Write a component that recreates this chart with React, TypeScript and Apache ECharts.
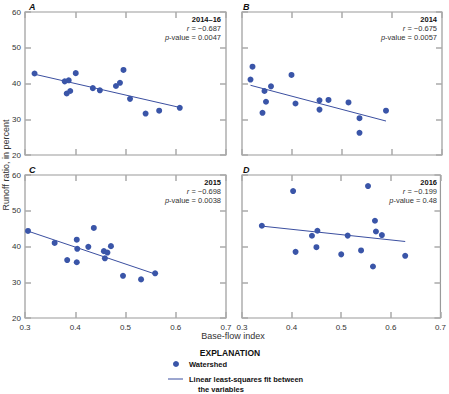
import React, { useEffect, useRef } from "react";
import * as echarts from "echarts";

const panelLetters = ["A", "B", "C", "D"];
const panelYears = ["2014–16", "2014", "2015", "2016"];
const panelR = ["−0.687", "−0.675", "−0.698", "−0.199"];
const panelP = ["0.0047", "0.0057", "0.0038", "0.48"];

const dataA = [
  [0.319, 42.8], [0.379, 40.6], [0.387, 40.9], [0.383, 37.2], [0.39, 37.9],
  [0.401, 42.9], [0.435, 38.7], [0.449, 38.1], [0.481, 39.3], [0.489, 40.2],
  [0.496, 43.8], [0.509, 35.7], [0.54, 31.6], [0.567, 32.4], [0.608, 33.2],
];
const dataB = [
  [0.321, 44.7], [0.317, 41.1], [0.345, 37.9], [0.358, 39.2], [0.348, 34.9],
  [0.341, 31.8], [0.399, 42.4], [0.407, 34.4], [0.455, 35.3], [0.455, 32.7],
  [0.473, 35.4], [0.513, 34.7], [0.535, 30.3], [0.535, 26.2], [0.588, 32.4],
];
const dataC = [
  [0.306, 44.35], [0.359, 41.0], [0.384, 36.2], [0.403, 41.9], [0.404, 39.35],
  [0.403, 35.6], [0.426, 39.9], [0.437, 45.2], [0.457, 38.7], [0.459, 36.7],
  [0.464, 38.3], [0.471, 40.1], [0.495, 31.8], [0.531, 30.8], [0.559, 32.5],
];
const dataD = [
  [0.34, 45.8], [0.403, 55.5], [0.408, 38.5], [0.441, 43.0], [0.452, 44.4],
  [0.45, 39.8], [0.5, 37.8], [0.513, 43.05], [0.54, 38.9], [0.554, 56.9],
  [0.568, 47.2], [0.564, 34.4], [0.57, 44.2], [0.582, 43.2], [0.629, 37.4],
];
const fitA = [[0.319, 42.6], [0.608, 33.3]];
const fitB = [[0.317, 39.5], [0.588, 29.5]];
const fitC = [[0.306, 44.3], [0.559, 32.3]];
const fitD = [[0.34, 45.7], [0.629, 41.4]];

const scatterData = [dataA, dataB, dataC, dataD];
const fitData = [fitA, fitB, fitC, fitD];

const xTickMin = 0.3;
const xTickMax = 0.7;
const xTickStep = 0.1;
const yTickMin = 20;
const yTickMax = 60;
const yTickStep = 10;

const FONT = "'Liberation Sans Narrow', 'Arial Narrow', 'Liberation Sans', Arial, sans-serif";
const DOT = "#3a55a8";
const LINE = "#3b4fa0";
const FRAME = "#9a9a9a";
const TXT = "#333";

export default function App() {
  const ref = useRef<HTMLDivElement>(null);
  useEffect(() => {
    if (!ref.current) return;
    const chart = echarts.init(ref.current, null, { renderer: "svg" });
    const grids = [
      { left: 25, top: 12, width: 201, height: 143 },
      { left: 242, top: 12, width: 200, height: 143 },
      { left: 25, top: 175, width: 201, height: 143 },
      { left: 242, top: 175, width: 200, height: 143 },
    ].map((g) => ({ ...g, show: true, borderColor: FRAME, borderWidth: 1.2, backgroundColor: "transparent" }));

    const tick = { show: true, inside: true, length: 6, lineStyle: { color: "#aaa", width: 1.5 } };
    const xAxis: any[] = [];
    const yAxis: any[] = [];
    for (let i = 0; i < 4; i++) {
      const bottomRow = i >= 2;
      const leftCol = i % 2 === 0;
      xAxis.push({
        type: "value", gridIndex: i, position: "bottom", min: xTickMin, max: xTickMax, interval: xTickStep,
        axisLine: { show: false }, axisTick: tick, splitLine: { show: false },
        axisLabel: { show: bottomRow, fontSize: 8, color: TXT, fontFamily: FONT, margin: 5, formatter: (v: number) => v.toFixed(1) },
      });
      xAxis.push({
        type: "value", gridIndex: i, position: "top", min: xTickMin, max: xTickMax, interval: xTickStep,
        axisLine: { show: false }, axisTick: tick, splitLine: { show: false }, axisLabel: { show: false },
      });
      yAxis.push({
        type: "value", gridIndex: i, position: "left", min: yTickMin, max: yTickMax, interval: yTickStep,
        axisLine: { show: false }, axisTick: tick, splitLine: { show: false },
        axisLabel: { show: leftCol, fontSize: 8, color: TXT, fontFamily: FONT, margin: 4 },
      });
      yAxis.push({
        type: "value", gridIndex: i, position: "right", min: yTickMin, max: yTickMax, interval: yTickStep,
        axisLine: { show: false }, axisTick: tick, splitLine: { show: false }, axisLabel: { show: false },
      });
    }

    const series: any[] = [];
    for (let i = 0; i < 4; i++) {
      series.push({
        type: "line", xAxisIndex: i * 2, yAxisIndex: i * 2, data: fitData[i], symbol: "none",
        lineStyle: { color: LINE, width: 1 }, silent: true, z: 2,
      });
      series.push({
        type: "scatter", xAxisIndex: i * 2, yAxisIndex: i * 2, data: scatterData[i], symbolSize: 6,
        itemStyle: { color: DOT, opacity: 1 }, z: 3,
      });
    }

    const graphic: any[] = [];
    const rich = {
      b: { fontWeight: "bold", fontSize: 7.5, fontFamily: FONT, fill: "#111" },
      i: { fontStyle: "italic", fontSize: 7.5, fontFamily: FONT, fill: TXT },
      n: { fontSize: 7.5, fontFamily: FONT, fill: TXT },
    };
    grids.forEach((g, i) => {
      const right = g.left + g.width - 5;
      graphic.push({
        type: "text", left: g.left + (i % 2 === 0 ? 4 : 1), top: g.top - 10,
        style: { text: panelLetters[i], font: `italic bold 9px ${FONT}`, fill: "#111" },
      });
      graphic.push({
        type: "text", x: right, y: g.top + 7,
        style: { text: `{b|${panelYears[i]}}`, rich, align: "right", verticalAlign: "middle" },
      });
      graphic.push({
        type: "text", x: right, y: g.top + 16,
        style: { text: `{i|r}{n| = ${panelR[i]}}`, rich, align: "right", verticalAlign: "middle" },
      });
      graphic.push({
        type: "text", x: right, y: g.top + 25,
        style: { text: `{i|p}{n|-value = ${panelP[i]}}`, rich, align: "right", verticalAlign: "middle" },
      });
    });
    graphic.push({
      type: "text", x: 233, y: 336,
      style: { text: "Base-flow index", font: `9px ${FONT}`, fill: TXT, align: "center", verticalAlign: "middle" },
    });
    graphic.push({
      type: "text", x: 6, y: 165, rotation: Math.PI / 2,
      style: { text: "Runoff ratio, in percent", font: `9px ${FONT}`, fill: TXT, align: "center", verticalAlign: "middle" },
    });
    graphic.push({
      type: "text", x: 230, y: 353,
      style: { text: "EXPLANATION", font: `bold 8.5px ${FONT}`, fill: "#111", align: "center", verticalAlign: "middle" },
    });
    graphic.push({ type: "circle", shape: { cx: 176, cy: 364, r: 3 }, style: { fill: DOT } });
    graphic.push({
      type: "text", x: 189, y: 364,
      style: { text: "Watershed", font: `bold 7.5px ${FONT}`, fill: "#111", align: "left", verticalAlign: "middle" },
    });
    graphic.push({ type: "line", shape: { x1: 168, y1: 379, x2: 183, y2: 379 }, style: { stroke: LINE, lineWidth: 1 } });
    graphic.push({
      type: "text", x: 189, y: 379,
      style: { text: "Linear least-squares fit between", font: `bold 7.5px ${FONT}`, fill: "#111", align: "left", verticalAlign: "middle" },
    });
    graphic.push({
      type: "text", x: 198, y: 389,
      style: { text: "the variables", font: `bold 7.5px ${FONT}`, fill: "#111", align: "left", verticalAlign: "middle" },
    });

    chart.setOption({
      animation: false,
      backgroundColor: "#fff",
      grid: grids,
      xAxis,
      yAxis,
      series,
      graphic,
    });
    return () => chart.dispose();
  }, []);
  return <div ref={ref} style={{ position: "fixed", left: 0, top: 0, width: 449, height: 394 }} />;
}
